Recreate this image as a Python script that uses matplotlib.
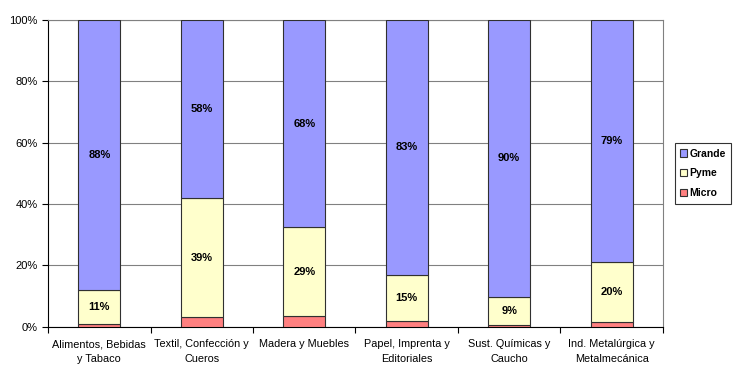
import numpy as np
import matplotlib.pyplot as plt
from matplotlib.ticker import FixedLocator, FuncFormatter

plt.rcParams['font.family'] = ['Liberation Sans', 'DejaVu Sans']

categories = ['Alimentos, Bebidas\ny Tabaco', 'Textil, Confección y\nCueros',
              'Madera y Muebles', 'Papel, Imprenta y\nEditoriales',
              'Sust. Químicas y\nCaucho', 'Ind. Metalúrgica y\nMetalmecánica']
micro = [1.0, 3.1, 3.4, 2.0, 0.5, 1.5]
pyme = [11.0, 39.0, 29.0, 15.0, 9.3, 19.7]
grande = [88.0, 57.9, 67.6, 83.0, 90.2, 78.8]
pyme_labels = ['11%', '39%', '29%', '15%', '9%', '20%']
grande_labels = ['88%', '58%', '68%', '83%', '90%', '79%']

fig = plt.figure(figsize=(7.39, 3.71), dpi=100)
ax = fig.add_axes([0.065, 0.119, 0.832, 0.827])

x = np.arange(len(categories)) + 0.5
w = 0.41
ec = '#303030'
b_micro = ax.bar(x, micro, w, color='#FF8080', edgecolor=ec, linewidth=0.8, zorder=3)
b_pyme = ax.bar(x, pyme, w, bottom=micro, color='#FFFFCC', edgecolor=ec, linewidth=0.8, zorder=3)
bottom2 = np.array(micro) + np.array(pyme)
b_grande = ax.bar(x, grande, w, bottom=bottom2, color='#9999FF', edgecolor=ec, linewidth=0.8, zorder=3)

for i in range(len(categories)):
    ax.text(x[i], micro[i] + pyme[i] / 2, pyme_labels[i], ha='center', va='center',
            fontsize=8, fontweight='bold', zorder=4)
    ax.text(x[i], bottom2[i] + grande[i] / 2, grande_labels[i], ha='center', va='center',
            fontsize=8, fontweight='bold', zorder=4)

ax.set_xlim(0, len(categories))
ax.set_ylim(0, 100)
ax.yaxis.set_major_locator(FixedLocator([0, 20, 40, 60, 80, 100]))
ax.yaxis.set_major_formatter(FuncFormatter(lambda v, p: f'{v:.0f}%'))
ax.set_xticks(np.arange(len(categories) + 1))
ax.set_xticklabels([])
ax.set_xticks(x, minor=True)
ax.set_xticklabels(categories, minor=True, fontsize=7.8, linespacing=1.6)
ax.tick_params(axis='x', which='minor', length=0, pad=9)
ax.tick_params(axis='x', which='major', length=4, direction='out', width=0.8)
ax.tick_params(axis='y', length=4, direction='out', width=0.8, labelsize=8)
ax.grid(axis='y', color='#808080', linewidth=0.8, zorder=0)

ax.spines['left'].set_color('black')
ax.spines['bottom'].set_color('black')
ax.spines['right'].set_color('#808080')
ax.spines['top'].set_color('#808080')

leg = ax.legend([b_grande, b_pyme, b_micro], ['Grande', 'Pyme', 'Micro'],
                loc='center left', bbox_to_anchor=(1.014, 0.5), fancybox=False,
                edgecolor='black', handlelength=0.7, handleheight=0.7,
                handletextpad=0.25, labelspacing=0.95, borderpad=0.5,
                borderaxespad=0.3, prop={'size': 7.5, 'weight': 'bold'})
leg.get_frame().set_linewidth(0.8)

fig.savefig('out.png', dpi=100)
